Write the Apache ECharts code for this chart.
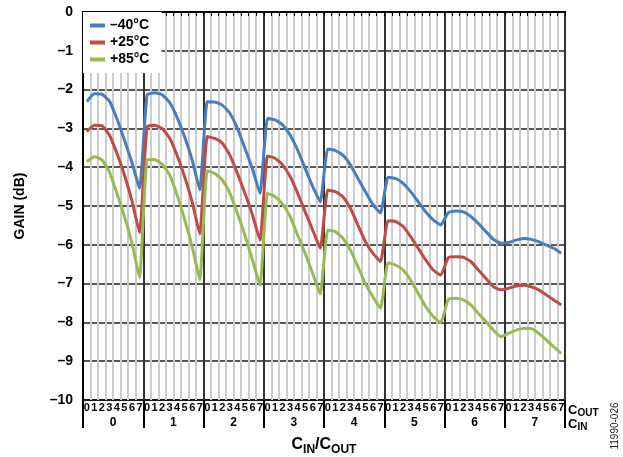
<!DOCTYPE html>
<html>
<head>
<meta charset="utf-8">
<script src="https://cdn.jsdelivr.net/npm/echarts/dist/echarts.min.js"></script>
<style>
  html, body { margin: 0; padding: 0; background: #fff; }
  #chart { width: 623px; height: 457px; }
</style>
</head>
<body>
<div id="chart"></div>
<script>
// C_IN groups and C_OUT sub-categories
const cinLabels = ['0', '1', '2', '3', '4', '5', '6', '7'];
const coutLabels = ['0', '1', '2', '3', '4', '5', '6', '7'];

// Gain (dB) per C_IN/C_OUT combination
const gainM40 = [
  -2.31, -2.11, -2.12, -2.29, -2.75, -3.30, -3.88, -4.54,
  -2.14, -2.08, -2.13, -2.33, -2.72, -3.22, -3.82, -4.58,
  -2.31, -2.32, -2.40, -2.61, -3.00, -3.51, -4.04, -4.68,
  -2.74, -2.78, -2.91, -3.17, -3.56, -4.03, -4.50, -4.89,
  -3.53, -3.57, -3.69, -3.94, -4.29, -4.63, -4.96, -5.18,
  -4.26, -4.29, -4.42, -4.63, -4.89, -5.15, -5.36, -5.49,
  -5.17, -5.13, -5.15, -5.27, -5.45, -5.66, -5.86, -5.96,
  -5.94, -5.88, -5.84, -5.86, -5.92, -6.01, -6.09, -6.22
];
const gainP25 = [
  -3.08, -2.92, -2.93, -3.17, -3.64, -4.20, -4.87, -5.68,
  -2.96, -2.92, -3.00, -3.25, -3.70, -4.25, -4.90, -5.72,
  -3.21, -3.26, -3.38, -3.69, -4.16, -4.67, -5.23, -5.88,
  -3.71, -3.77, -3.94, -4.24, -4.67, -5.15, -5.62, -6.09,
  -4.59, -4.63, -4.76, -5.06, -5.49, -5.92, -6.22, -6.43,
  -5.38, -5.40, -5.53, -5.79, -6.09, -6.39, -6.65, -6.78,
  -6.33, -6.31, -6.32, -6.43, -6.65, -6.87, -7.08, -7.16,
  -7.12, -7.06, -7.04, -7.08, -7.16, -7.29, -7.42, -7.55
];
const gainP85 = [
  -3.86, -3.73, -3.81, -4.12, -4.67, -5.27, -5.96, -6.84,
  -3.81, -3.80, -3.92, -4.20, -4.72, -5.35, -6.05, -6.90,
  -4.09, -4.16, -4.33, -4.67, -5.19, -5.75, -6.39, -7.04,
  -4.67, -4.76, -4.95, -5.27, -5.75, -6.22, -6.74, -7.27,
  -5.62, -5.66, -5.83, -6.13, -6.56, -7.00, -7.34, -7.64,
  -6.46, -6.52, -6.65, -6.91, -7.25, -7.59, -7.85, -8.01,
  -7.41, -7.38, -7.42, -7.55, -7.77, -7.98, -8.20, -8.37,
  -8.28, -8.20, -8.16, -8.16, -8.28, -8.45, -8.63, -8.80
];
const seriesNames = ['–40°C', '+25°C', '+85°C'];
const yMin = -10, yMax = 0, yStep = 1;

const FONT = '"Liberation Sans", Arial, Helvetica, sans-serif';
const colors = ['#4a7ebb', '#be4b48', '#98b954'];

const categories = [];
cinLabels.forEach(ci => coutLabels.forEach(co => categories.push(ci + '/' + co)));

const chart = echarts.init(document.getElementById('chart'), null, { renderer: 'canvas' });

const option = {
  animation: false,
  color: colors,
  textStyle: { fontFamily: FONT },
  grid: {
    left: 83, right: 58, top: 12, bottom: 57,
    show: true, borderColor: '#000', borderWidth: 2, containLabel: false
  },
  legend: {
    orient: 'vertical',
    left: 83, top: 12,
    padding: [5, 12, 5, 7],
    backgroundColor: '#fff',
    itemGap: 0,
    itemWidth: 15,
    itemHeight: 4,
    icon: 'rect',
    textStyle: { fontFamily: FONT, fontSize: 14, fontWeight: 'bold', color: '#000', lineHeight: 17 },
    data: seriesNames
  },
  xAxis: [
    {
      type: 'category',
      data: categories,
      boundaryGap: true,
      position: 'bottom',
      axisLine: { show: true, lineStyle: { color: '#000', width: 2 } },
      axisTick: { show: true, interval: 0, length: 4, lineStyle: { color: '#000', width: 1 } },
      axisLabel: {
        interval: 0, margin: 2,
        fontFamily: FONT, fontSize: 11, fontWeight: 'bold', color: '#000',
        formatter: v => v.split('/')[1]
      },
      splitLine: { show: true, interval: 0, lineStyle: { color: '#cccccc', width: 2 } }
    },
    {
      type: 'category',
      data: cinLabels,
      boundaryGap: true,
      position: 'bottom',
      offset: 0,
      axisLine: { show: false },
      axisTick: { show: true, interval: 0, length: 28, lineStyle: { color: '#000', width: 2 } },
      axisLabel: {
        interval: 0, margin: 17,
        fontFamily: FONT, fontSize: 12, fontWeight: 'bold', color: '#000'
      },
      splitLine: { show: true, interval: 0, lineStyle: { color: '#000', width: 1.5 } }
    }
  ],
  yAxis: {
    type: 'value',
    min: yMin, max: yMax, interval: yStep,
    axisLine: { show: true, lineStyle: { color: '#000', width: 2 } },
    axisTick: { show: false },
    axisLabel: {
      margin: 10,
      fontFamily: FONT, fontSize: 14, fontWeight: 'bold', color: '#000',
      formatter: v => (v < 0 ? '–' + Math.abs(v) : String(v))
    },
    splitLine: { show: true, lineStyle: { color: '#222', width: 1.5 } }
  },
  series: [gainM40, gainP25, gainP85].map((d, i) => ({
    name: seriesNames[i],
    type: 'line',
    xAxisIndex: 0,
    data: d,
    symbol: 'none',
    smooth: 0.15,
    lineStyle: { width: 3, color: colors[i] },
    itemStyle: { color: colors[i] },
    z: 3
  })),
  graphic: [
    {
      type: 'text', x: 20, y: 206, rotation: Math.PI / 2,
      style: {
        text: 'GAIN (dB)', font: 'bold 14px ' + FONT, fill: '#000',
        align: 'center', verticalAlign: 'middle', textAlign: 'center', textVerticalAlign: 'middle'
      }
    },
    {
      type: 'text', x: 324, y: 445,
      style: {
        text: '{m|C}{s|IN}{m|/C}{s|OUT}',
        align: 'center', verticalAlign: 'middle', textAlign: 'center', textVerticalAlign: 'middle',
        fill: '#000',
        rich: {
          m: { fontFamily: FONT, fontSize: 16, fontWeight: 'bold', lineHeight: 22, verticalAlign: 'middle' },
          s: { fontFamily: FONT, fontSize: 12, fontWeight: 'bold', lineHeight: 12, verticalAlign: 'bottom' }
        }
      }
    },
    {
      type: 'text', x: 568, y: 410,
      style: {
        text: '{m|C}{s|OUT}',
        align: 'left', verticalAlign: 'middle', textAlign: 'left', textVerticalAlign: 'middle',
        fill: '#000',
        rich: {
          m: { fontFamily: FONT, fontSize: 13, fontWeight: 'bold', lineHeight: 17, verticalAlign: 'middle' },
          s: { fontFamily: FONT, fontSize: 10, fontWeight: 'bold', lineHeight: 10, verticalAlign: 'bottom' }
        }
      }
    },
    {
      type: 'text', x: 568, y: 424,
      style: {
        text: '{m|C}{s|IN}',
        align: 'left', verticalAlign: 'middle', textAlign: 'left', textVerticalAlign: 'middle',
        fill: '#000',
        rich: {
          m: { fontFamily: FONT, fontSize: 13, fontWeight: 'bold', lineHeight: 17, verticalAlign: 'middle' },
          s: { fontFamily: FONT, fontSize: 10, fontWeight: 'bold', lineHeight: 10, verticalAlign: 'bottom' }
        }
      }
    },
    {
      type: 'text', x: 615, y: 426, rotation: Math.PI / 2,
      style: {
        text: '11990-026', font: '10px ' + FONT, fill: '#222',
        align: 'center', verticalAlign: 'middle', textAlign: 'center', textVerticalAlign: 'middle'
      }
    }
  ]
};

chart.setOption(option);
</script>
</body>
</html>
